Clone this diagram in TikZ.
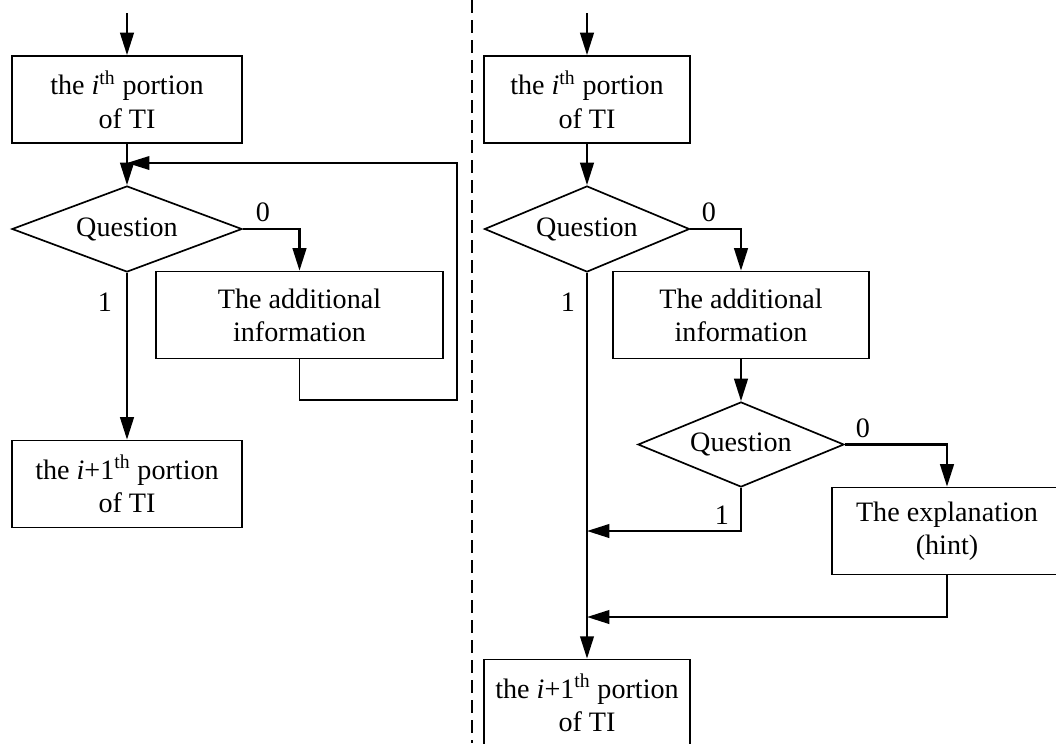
\documentclass[tikz,border=0pt]{standalone}
\usepackage{fontspec}
\setmainfont{Liberation Serif}
\usetikzlibrary{shapes.geometric,arrows.meta}

\tikzset{
  block/.style={draw,rectangle,line width=1.2pt,inner sep=0pt,align=center,
    minimum width=5.75cm,minimum height=2.175cm},
  decision/.style={draw,diamond,line width=1.2pt,inner sep=0pt,aspect=2.67,
    minimum width=5.75cm,minimum height=2.15cm},
  flow/.style={line width=1.6pt,-{Triangle[length=0.56cm,width=0.34cm]}},
  lbl/.style={inner sep=0pt}
}

\begin{document}
\begin{tikzpicture}[x=0.025cm,y=-0.025cm,font=\fontsize{20}{23.5}\selectfont]
  \useasboundingbox (0,0) rectangle (1056,743);

  % left: with loop
  \coordinate (inL) at (127,13);
  \node[block] (boxL) at (127,99.5) {the \textit{i}\textsuperscript{th} portion\\of TI};
  \node[decision] (qL) at (127,229) {Question};
  \node[block,minimum width=7.175cm] (addL) at (299.5,315) {The additional\\information};
  \node[block] (nextL) at (127,484) {the \textit{i}+1\textsuperscript{th} portion\\of TI};
  \coordinate (loopL) at (457,400);
  \coordinate (joinL) at (127,163);
  \node[lbl] (zeroL) at (263,212) {0};
  \node[lbl] (oneL) at (105,302) {1};

  \draw[flow] (inL) -- (boxL.north);
  \draw[flow] (boxL.south) -- (qL.north);
  \draw[flow] (qL.east) -| (addL.north);
  \draw[flow] (qL.south) -- (nextL.north);
  \draw[flow,line width=1.2pt] (addL.south) |- (loopL) |- (joinL);

  % separator
  \draw[line width=0.8pt,dash pattern=on 0.33cm off 0.17cm] (472,0) -- (472,743);

  % right: with explanation
  \coordinate (inR) at (587,13);
  \node[block,minimum width=5.15cm] (boxR) at (587,99.5) {the \textit{i}\textsuperscript{th} portion\\of TI};
  \node[decision,minimum width=5.125cm,aspect=2.38] (qR) at (587,229) {Question};
  \node[block,minimum width=6.4cm] (addR) at (741,315) {The additional\\information};
  \node[decision,minimum width=5.15cm,minimum height=2.125cm,aspect=2.42] (qR2) at (741,444.5) {Question};
  \node[block] (explR) at (947,531) {The explanation\\(hint)};
  \node[block,minimum width=5.15cm] (nextR) at (587,703) {the \textit{i}+1\textsuperscript{th} portion\\of TI};
  \coordinate (joinR1) at (587,531);
  \coordinate (joinR2) at (587,617);
  \node[lbl] (zeroR) at (709,212) {0};
  \node[lbl] (oneR) at (568,302) {1};
  \node[lbl] (zeroR2) at (863,428) {0};
  \node[lbl] (oneR2) at (722,515) {1};

  \draw[flow] (inR) -- (boxR.north);
  \draw[flow] (boxR.south) -- (qR.north);
  \draw[flow] (qR.east) -| (addR.north);
  \draw[flow] (addR.south) -- (qR2.north);
  \draw[flow] (qR2.east) -| (explR.north);
  \draw[flow] (qR2.south) |- (joinR1);
  \draw[flow] (explR.south) |- (joinR2);
  \draw[flow] (qR.south) -- (nextR.north);
\end{tikzpicture}
\end{document}
